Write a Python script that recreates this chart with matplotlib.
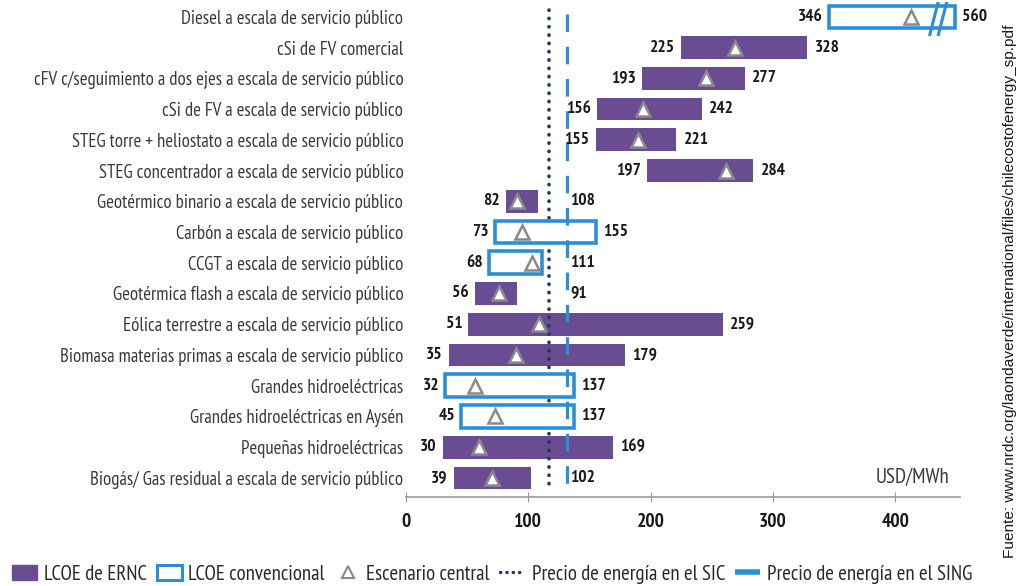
import matplotlib
matplotlib.use("Agg")
import matplotlib.pyplot as plt
from matplotlib.lines import Line2D
from matplotlib.patches import Patch, Rectangle

# --- data -------------------------------------------------------------------
categories = [
    "Diesel a escala de servicio público",
    "cSi de FV comercial",
    "cFV c/seguimiento a dos ejes a escala de servicio público",
    "cSi de FV a escala de servicio público",
    "STEG torre + heliostato a escala de servicio público",
    "STEG concentrador a escala de servicio público",
    "Geotérmico binario a escala de servicio público",
    "Carbón a escala de servicio público",
    "CCGT a escala de servicio público",
    "Geotérmica flash a escala de servicio público",
    "Eólica terrestre a escala de servicio público",
    "Biomasa materias primas a escala de servicio público",
    "Grandes hidroeléctricas",
    "Grandes hidroeléctricas en Aysén",
    "Pequeñas hidroeléctricas",
    "Biogás/ Gas residual a escala de servicio público",
]
lcoe_low = [346, 225, 193, 156, 155, 197, 82, 73, 68, 56, 51, 35, 32, 45, 30, 39]
lcoe_high = [560, 328, 277, 242, 221, 284, 108, 155, 111, 91, 259, 179, 137, 137, 169, 102]
central_case = [413, 269, 245, 194, 190, 262, 91, 95, 103, 76, 109, 90, 56, 73, 60, 70]
is_renewable = [False, True, True, True, True, True, True, False, False,
                True, True, True, False, False, True, True]
price_sic = 117
price_sing = 132
x_ticks = [0, 100, 200, 300, 400]

# --- style ------------------------------------------------------------------
PURPLE = "#6a4c93"
BLUE = "#2b8fd6"
NAVY = "#1f3a63"
GREY = "#8a8a8a"
NARROW = ["PT Sans Narrow", "Archivo Narrow", "DejaVu Sans"]

plt.rcParams["font.family"] = NARROW

# broken axis: values past the break are compressed
BREAK_AT = 440
X_MAX = 453


def to_axis(v):
    if v <= BREAK_AT:
        return v
    return BREAK_AT + (v - BREAK_AT) * 9.0 / 120.0


fig = plt.figure(figsize=(10.21, 5.86), dpi=100)
ax = fig.add_axes([0.3977, 0.152, 0.5426, 0.8454])

bar_h = 0.74
for i, (lo, hi, mid, ren) in enumerate(zip(lcoe_low, lcoe_high, central_case, is_renewable)):
    x0, x1 = to_axis(lo), to_axis(hi)
    if ren:
        ax.barh(i, x1 - x0, left=x0, height=bar_h, color=PURPLE, zorder=2)
    else:
        ax.add_patch(Rectangle((x0, i - bar_h / 2), x1 - x0, bar_h, facecolor="white",
                               edgecolor=BLUE, linewidth=2.6, zorder=4))
    ax.plot([to_axis(mid)], [i], marker="^", markersize=10, markerfacecolor="white",
            markeredgecolor=GREY, markeredgewidth=1.8, linestyle="none", zorder=6)
    # value labels
    ax.text(x0 - 5, i, str(lo), ha="right", va="center", fontsize=12.5,
            fontweight="bold", color="#1a1a1a", zorder=7)
    rx = max(x1, price_sing - 2) + 4 if x1 < price_sing + 5 else x1 + 6
    ax.text(rx, i, str(hi), ha="left", va="center", fontsize=12.5,
            fontweight="bold", color="#1a1a1a", zorder=7)
    if hi > BREAK_AT:
        for dx in (0, 7):
            ax.plot([BREAK_AT - 12 + dx, BREAK_AT - 4 + dx], [i + 0.62, i - 0.62],
                    color=BLUE, linewidth=2.2, zorder=5, solid_capstyle="butt")

# reference energy prices
ax.vlines(price_sic, -0.23, 15.4, colors=NAVY, linewidth=2.6,
          linestyles=[(0, (0.1, 2.2))], capstyle="round", zorder=3)
sing = Line2D([price_sing, price_sing], [-0.1, 15.4], color=BLUE, linewidth=2.3,
              dashes=(5.5, 4.6), zorder=5)
ax.add_line(sing)

ax.set_xlim(0, X_MAX)
ax.set_ylim(15.62, -0.5)
ax.set_yticks(range(len(categories)))
ax.set_yticklabels(categories, fontsize=13.5, color="#3a3a3a")
ax.tick_params(axis="y", length=0, pad=2)
ax.set_xticks(x_ticks)
ax.set_xticklabels([str(t) for t in x_ticks], fontsize=14, fontweight="bold",
                   color="#1a1a1a")
ax.tick_params(axis="x", direction="inout", length=7, color="#9a9a9a", pad=8)
for s in ("left", "right", "top"):
    ax.spines[s].set_visible(False)
ax.spines["bottom"].set_color("#9a9a9a")
ax.spines["bottom"].set_linewidth(1.2)

ax.text(0.98, 15.0, "USD/MWh", transform=ax.get_yaxis_transform(), ha="right",
        va="center", fontsize=15, color="#3a3a3a")

fig.text(0.989, 0.503, "Fuente: www.nrdc.org/laondaverde/international/files/chilecostofenergy_sp.pdf",
         rotation=90, ha="center", va="center", fontsize=11.1,
         family=["Liberation Sans", "DejaVu Sans"], color="#1a1a1a")

handles = [
    Patch(facecolor=PURPLE, edgecolor=PURPLE),
    Patch(facecolor="white", edgecolor=BLUE, linewidth=2.2),
    Line2D([], [], marker="^", markersize=8, markerfacecolor="white",
           markeredgecolor=GREY, markeredgewidth=1.5, linestyle="none"),
    Line2D([], [], color=NAVY, linewidth=2.4, linestyle=(0, (0.1, 1.8)),
           dash_capstyle="round"),
    Line2D([], [], color=BLUE, linewidth=4, solid_capstyle="butt"),
]
labels = ["LCOE de ERNC", "LCOE convencional", "Escenario central",
          "Precio de energía en el SIC", "Precio de energía en el SING"]
fig.legend(handles, labels, loc="center left", bbox_to_anchor=(0.008, 0.02), ncol=5,
           frameon=False, fontsize=15, handlelength=1.2, handletextpad=0.3,
           columnspacing=0.5, labelcolor="#2a2a2a", borderaxespad=0, borderpad=0.2)

fig.savefig("out.png", dpi=100)
